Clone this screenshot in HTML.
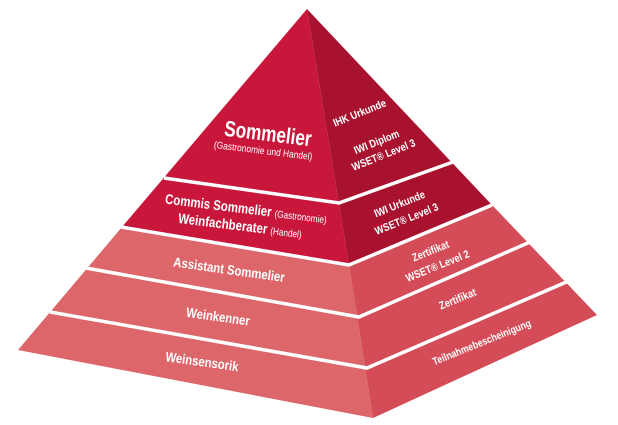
<!DOCTYPE html>
<html><head><meta charset="utf-8"><style>
html,body{margin:0;padding:0;background:#fff;width:618px;height:425px;overflow:hidden;position:relative}
svg{position:absolute;left:0;top:0}
.t{position:absolute;font-family:"Liberation Sans",sans-serif;font-weight:bold;color:#fff;white-space:nowrap;line-height:1;transform-origin:center center}
.n{font-weight:normal}
</style></head><body>
<svg width="618" height="425" viewBox="0 0 618 425" xmlns="http://www.w3.org/2000/svg">
<polygon points="122,227 349,265 373,418 18,350" fill="#dc6669"/>
<polygon points="349,265 492,205 597,315 373,418" fill="#d44c57"/>
<polygon points="307,9 122,227 349,265" fill="#c8173b"/>
<polygon points="307,9 349,265 492,205" fill="#a8122f"/>
<g stroke="#fff" stroke-width="3.5" fill="none">
<polyline points="164,178 339,203 453,162"/>
<polyline points="121,227 349,265 492,205"/>
<polyline points="86,268 359,317 530,242"/>
<polyline points="50,312 367,368 571,280"/>
</g>
</svg>
<div class="t" style="left:268px;top:134px;font-size:22px;transform:translate(-50%,-50%) rotate(7deg) scaleX(.78)">Sommelier</div>
<div class="t n" style="left:263px;top:152px;font-size:10px;transform:translate(-50%,-50%) rotate(7deg) scaleX(.84)">(Gastronomie und Handel)</div>
<div class="t" style="left:246px;top:209px;font-size:14px;transform:translate(-50%,-50%) rotate(7deg) scaleX(.82)">Commis Sommelier <span class="n" style="font-size:10px">(Gastronomie)</span></div>
<div class="t" style="left:240px;top:226px;font-size:14px;transform:translate(-50%,-50%) rotate(7deg) scaleX(.82)">Weinfachberater <span class="n" style="font-size:10px">(Handel)</span></div>
<div class="t" style="left:229px;top:270px;font-size:13.5px;transform:translate(-50%,-50%) rotate(8deg) scaleX(.84)">Assistant Sommelier</div>
<div class="t" style="left:218px;top:317px;font-size:13.5px;transform:translate(-50%,-50%) rotate(8deg) scaleX(.84)">Weinkenner</div>
<div class="t" style="left:202px;top:362px;font-size:13.5px;transform:translate(-50%,-50%) rotate(8deg) scaleX(.84)">Weinsensorik</div>

<div class="t" style="left:360px;top:114px;font-size:11px;transform:translate(-50%,-50%) rotate(-22deg) scaleX(.84)">IHK Urkunde</div>
<div class="t" style="left:377px;top:143px;font-size:11px;transform:translate(-50%,-50%) rotate(-22deg) scaleX(.84)">IWI Diplom</div>
<div class="t" style="left:384px;top:156px;font-size:11px;transform:translate(-50%,-50%) rotate(-22deg) scaleX(.84)">WSET® Level 3</div>
<div class="t" style="left:400px;top:205px;font-size:11px;transform:translate(-50%,-50%) rotate(-22deg) scaleX(.84)">IWI Urkunde</div>
<div class="t" style="left:407px;top:220px;font-size:11px;transform:translate(-50%,-50%) rotate(-22deg) scaleX(.84)">WSET® Level 3</div>
<div class="t" style="left:431px;top:252px;font-size:11px;transform:translate(-50%,-50%) rotate(-22deg) scaleX(.84)">Zertifikat</div>
<div class="t" style="left:438px;top:267px;font-size:11px;transform:translate(-50%,-50%) rotate(-22deg) scaleX(.84)">WSET® Level 2</div>
<div class="t" style="left:458px;top:300px;font-size:11px;transform:translate(-50%,-50%) rotate(-22deg) scaleX(.84)">Zertifikat</div>
<div class="t" style="left:482px;top:343px;font-size:10.5px;transform:translate(-50%,-50%) rotate(-22deg) scaleX(.84)">Teilnahmebescheinigung</div>
</body></html>
